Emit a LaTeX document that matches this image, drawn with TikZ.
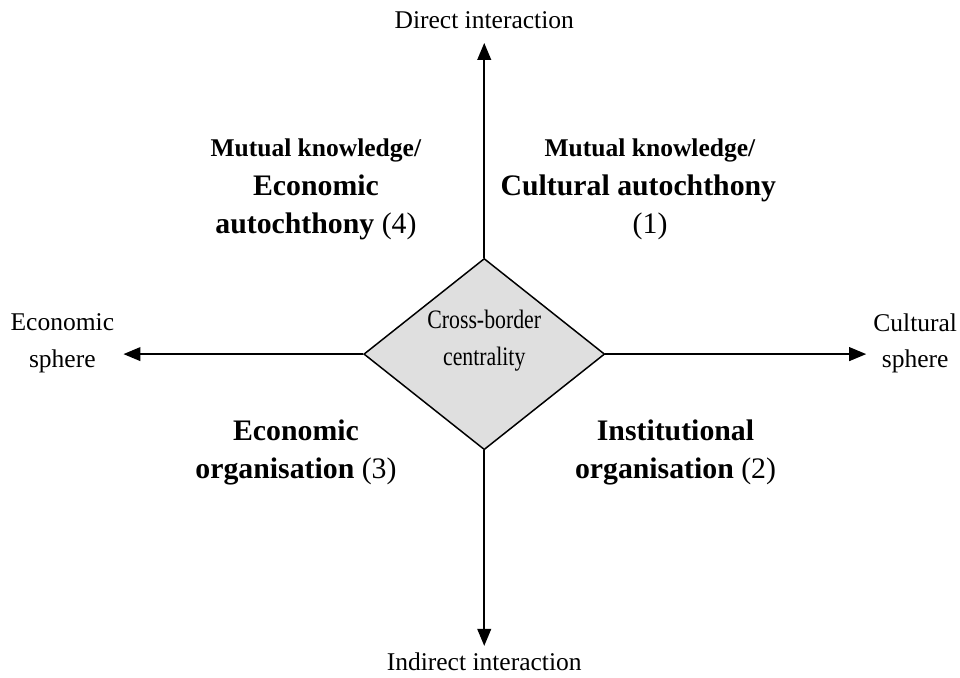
\documentclass[tikz,border=0pt]{standalone}
\usepackage{fontspec}
\setmainfont{Liberation Serif}
\usetikzlibrary{shapes.geometric, arrows.meta}

\begin{document}
\begin{tikzpicture}[scale=1,
  eje/.style={line width=0.7pt, -{Triangle[length=8pt,width=6.5pt]}},
  etiqueta/.style={align=center, font=\fontsize{12}{17}\selectfont},
  cuadrante/.style={align=center, font=\fontsize{14}{18}\selectfont}]

% Marco de la figura
\useasboundingbox (-8,-5.35) rectangle (7.86,5.85);

% Rombo central
\node[diamond, draw, line width=0.7pt, fill=gray!25, aspect=1.26, inner sep=0pt,
      minimum width=3.98cm, minimum height=3.16cm] (hub) at (0,0) {};
\node[align=center, font=\fontsize{12.5}{17.5}\selectfont, xscale=0.82, transform shape]
  (hubtxt) at (0,0.22) {Cross-border\\centrality};

% Extremos de los ejes
\coordinate (arriba) at (0,5.14);
\coordinate (abajo) at (0,-4.82);
\coordinate (izq) at (-5.96,0);
\coordinate (der) at (6.31,0);

% Ejes
\draw[eje] (hub.north) -- (arriba);
\draw[eje] (hub.south) -- (abajo);
\draw[eje] (hub.west) -- (izq);
\draw[eje] (hub.east) -- (der);

% Etiquetas de los ejes
\node[etiqueta] (directa) at (0,5.52) {Direct interaction};
\node[etiqueta] (indirecta) at (0,-5.09) {Indirect interaction};
\node[etiqueta] (economica) at (-6.97,0.18) {Economic\\sphere};
\node[etiqueta] (cultural) at (7.12,0.18) {Cultural\\sphere};

% Cuadrantes
\node[cuadrante] (q4) at (-2.78,2.72)
  {{\fontsize{12}{18}\selectfont\textbf{Mutual knowledge/}}\\ \textbf{Economic}\\ \textbf{autochthony} (4)};
\node[cuadrante] (q1) at (2.74,2.72)
  {{\fontsize{12}{18}\selectfont\textbf{Mutual knowledge/}}\\ \textbf{Cultural autochthony}\hspace{11pt}\mbox{}\\ (1)};
\node[cuadrante] (q3) at (-3.11,-1.63) {\textbf{Economic}\\ \textbf{organisation} (3)};
\node[cuadrante] (q2) at (3.16,-1.63) {\textbf{Institutional}\\ \textbf{organisation} (2)};

\end{tikzpicture}
\end{document}
